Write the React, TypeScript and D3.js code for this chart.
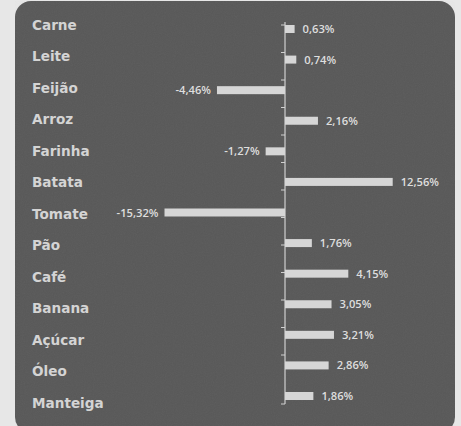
import React from "react"
import * as d3 from "d3"

const categories = ["Carne", "Leite", "Feijão", "Arroz", "Farinha", "Batata", "Tomate", "Pão", "Café", "Banana", "Açúcar", "Óleo", "Manteiga"]
const values = [0.63, 0.74, -4.46, 2.16, -1.27, 12.56, -15.32, 1.76, 4.15, 3.05, 3.21, 2.86, 1.86]
// visible part of the value axis, the two big bars are cut at the edges
const visibleRange = [-7.9, 7.06]

const W = 461
const H = 426

export default function App() {
  const x = d3.scaleLinear().domain(visibleRange).range([164.5, 392.7]).clamp(true)
  const yBar = d3.scalePoint().domain(categories).range([29, 396])
  const yLabel = d3.scalePoint().domain(categories).range([25, 403])
  const yTick = d3.scaleBand().domain(categories).range([25, 382.5])

  const x0 = x(0)
  const barH = 8
  const fmt = (v: number) => v.toFixed(2).replace(".", ",") + "%"

  return (
    <svg width={W} height={H} style={{ position: "absolute", left: 0, top: 0 }}>
      <defs>
        <filter id="noise" x="0" y="0" width="100%" height="100%">
          <feTurbulence type="fractalNoise" baseFrequency="0.9" numOctaves="2" seed="3" />
          <feColorMatrix type="saturate" values="0" />
          <feComponentTransfer>
            <feFuncA type="linear" slope="0.06" />
          </feComponentTransfer>
        </filter>
      </defs>
      <rect x={0} y={0} width={W} height={H} fill="#e7e7e7" />
      <rect x={15} y={1} width={440} height={432} rx={16} fill="#585858" />
      <rect x={15} y={1} width={440} height={432} rx={16} filter="url(#noise)" />

      {/* category labels */}
      {categories.map((c) => (
        <text
          key={c}
          x={32}
          y={yLabel(c)}
          dy="0.36em"
          fill="#d4d4d4"
          fontFamily="DejaVu Sans"
          fontWeight={700}
          fontSize={13.6}
        >
          {c}
        </text>
      ))}

      {/* axis */}
      <line x1={x0} x2={x0} y1={22} y2={404} stroke="#d0d0d0" strokeWidth={1.2} />
      {categories.map((c) => (
        <line key={"t" + c} x1={x0 - 4} x2={x0} y1={yTick(c)} y2={yTick(c)} stroke="#d0d0d0" strokeWidth={1} />
      ))}
      <line x1={x0 - 4} x2={x0} y1={404} y2={404} stroke="#d0d0d0" strokeWidth={1} />

      {/* bars */}
      {categories.map((c, i) => {
        const v = values[i]
        const xv = x(v)
        const cy = yBar(c) as number
        return (
          <g key={"b" + c}>
            <rect x={Math.min(xv, x0)} y={cy - barH / 2} width={Math.abs(xv - x0)} height={barH} fill="#d6d6d6" />
            <text
              x={v >= 0 ? xv + 8 : xv - 6}
              y={cy}
              dy="0.36em"
              textAnchor={v >= 0 ? "start" : "end"}
              fill="#dedede"
              fontFamily="Open Sans"
              fontWeight={600}
              fontSize={11.2}
            >
              {fmt(v)}
            </text>
          </g>
        )
      })}
    </svg>
  )
}
